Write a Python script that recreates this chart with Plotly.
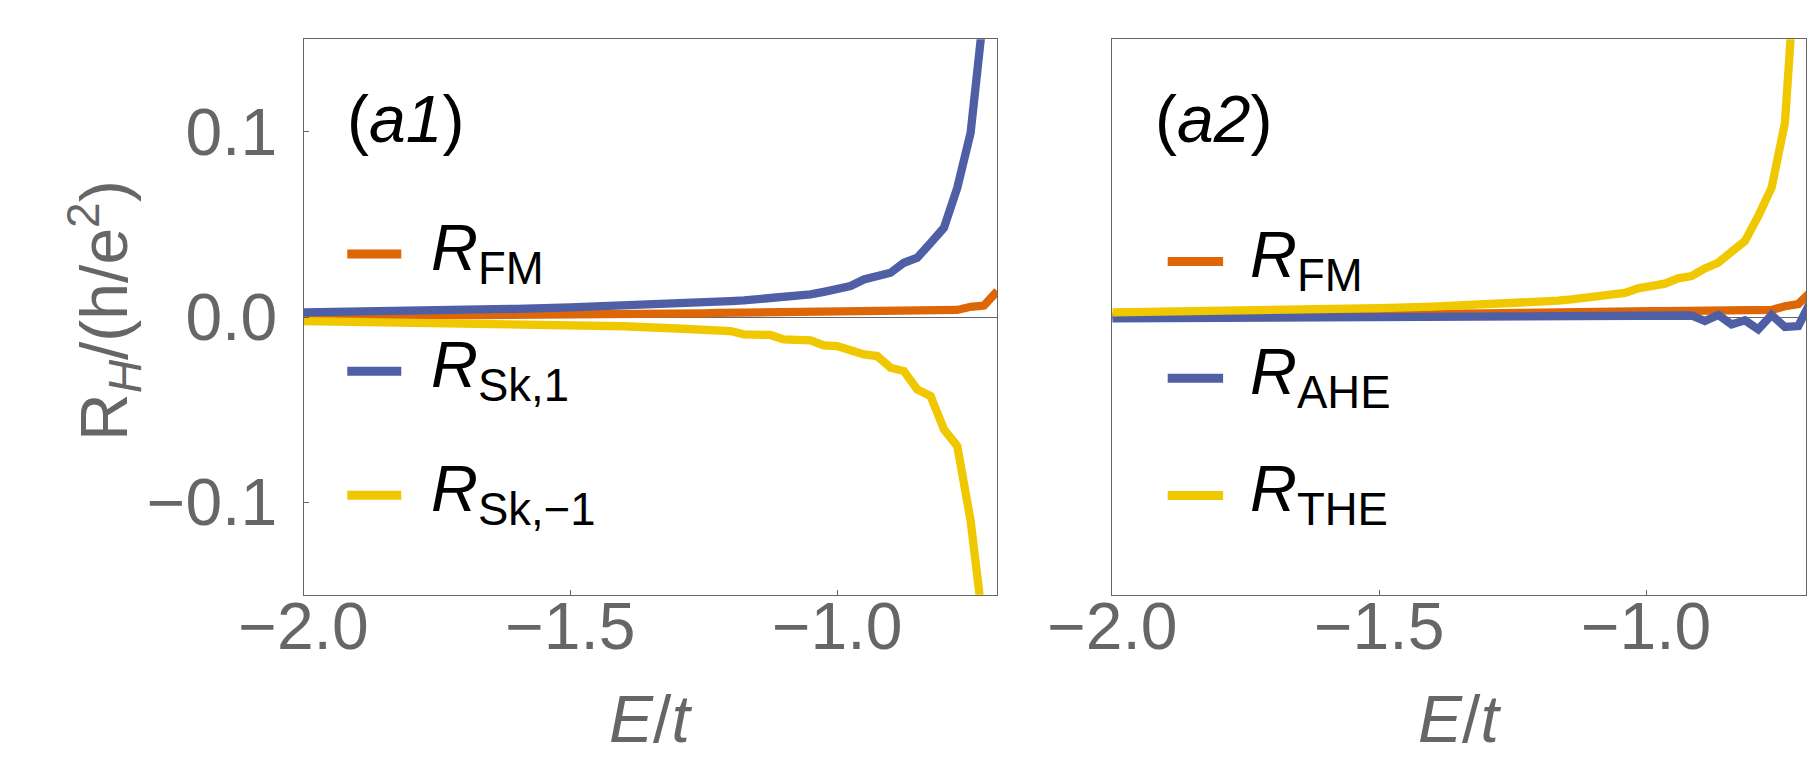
import plotly.graph_objects as go

# ---------------- data ----------------
# panel (a1)
E1 = [-2.0, -1.9, -1.8, -1.7, -1.6, -1.5, -1.4, -1.3, -1.25, -1.225, -1.2, -1.175,
      -1.15, -1.125, -1.1, -1.075, -1.05, -1.025, -1.0, -0.975, -0.95, -0.925, -0.9,
      -0.875, -0.85, -0.825, -0.8, -0.775, -0.75, -0.725, -0.7]
R_FM_1 = [0.0003, 0.0004, 0.0005, 0.0007, 0.0009, 0.0011, 0.0014, 0.0017, 0.0020, 0.0022,
          0.0023, 0.0023, 0.0025, 0.0025, 0.0026, 0.0026, 0.0027, 0.0029, 0.0030, 0.0030,
          0.0031, 0.0032, 0.0032, 0.0040, 0.0041, 0.0043, 0.0038, 0.0038, 0.0055, 0.0062,
          0.0140]
R_Sk_p1 = [0.0025, 0.0028, 0.0032, 0.0037, 0.0044, 0.0052, 0.0060, 0.0070, 0.0076, 0.0080,
           0.0086, 0.0090, 0.0095, 0.0100, 0.0110, 0.0116, 0.0122, 0.0136, 0.0146, 0.0167,
           0.0203, 0.0220, 0.0239, 0.0293, 0.0320, 0.0400, 0.0482, 0.0698, 0.0995, 0.166,
           0.30]
R_Sk_m1 = [-0.0022, -0.0025, -0.0028, -0.0032, -0.0036, -0.0041, -0.0050, -0.0062, -0.0070,
           -0.0076, -0.0076, -0.0094, -0.0095, -0.0097, -0.0121, -0.0123, -0.0126, -0.0153,
           -0.0157, -0.0180, -0.0202, -0.0211, -0.0274, -0.0292, -0.0391, -0.0427, -0.0607,
           -0.0697, -0.110, -0.170, -0.30]

# panel (a2)
E2 = [-2.0, -1.9, -1.8, -1.7, -1.6, -1.5, -1.4, -1.3, -1.24, -1.215, -1.19, -1.165,
      -1.14, -1.115, -1.09, -1.065, -1.04, -1.015, -0.99, -0.965, -0.94, -0.915, -0.89,
      -0.865, -0.84, -0.815, -0.79, -0.765, -0.74, -0.715, -0.69]
R_FM_2 = [0.0003, 0.0004, 0.0005, 0.0007, 0.0009, 0.0012, 0.0015, 0.0019, 0.0022, 0.0024,
          0.0025, 0.0026, 0.0027, 0.0027, 0.0028, 0.0029, 0.0029, 0.0030, 0.0031, 0.0032,
          0.0032, 0.0033, 0.0033, 0.0040, 0.0041, 0.0043, 0.0038, 0.0038, 0.0058, 0.0070,
          0.0140]
R_AHE = [-0.0007, -0.0006, -0.0005, -0.0004, -0.0003, -0.0002, 0.0000, 0.0002, 0.0004,
         0.0005, 0.0003, 0.0006, 0.0002, 0.0005, 0.0003, 0.0005, 0.0004, 0.0001, 0.0004,
         0.0000, 0.0003, 0.0008, -0.0022, 0.0011, -0.0040, -0.0018, -0.0067, 0.0011,
         -0.0054, -0.0049, 0.0093]
R_THE = [0.0025, 0.0028, 0.0032, 0.0036, 0.0042, 0.0048, 0.0056, 0.0066, 0.0072, 0.0077,
         0.0083, 0.0088, 0.0095, 0.0104, 0.0117, 0.0122, 0.0130, 0.0155, 0.0165, 0.0180,
         0.0209, 0.0221, 0.0262, 0.0293, 0.0352, 0.0410, 0.0545, 0.0698, 0.1049, 0.178,
         0.32]

x_tickvals = [-2.0, -1.5, -1.0]
x_ticktext = ["\u22122.0", "\u22121.5", "\u22121.0"]
y_tickvals = [-0.1, 0.0, 0.1]
y_ticktext = ["\u22120.1", "0.0", "0.1"]

labels1 = ["<i>R</i><sub>FM</sub>", "<i>R</i><sub>Sk,1</sub>", "<i>R</i><sub>Sk,\u22121</sub>"]
labels2 = ["<i>R</i><sub>FM</sub>", "<i>R</i><sub>AHE</sub>", "<i>R</i><sub>THE</sub>"]

# ---------------- style ----------------
ORANGE = "#DD6706"
BLUE = "#4F5FA6"
YELLOW = "#F0C800"
GRAY = "#666666"
FONT = "Liberation Sans"
W, H = 1815, 772
LW = 8.3


def px_x(p):
    return p / W


def px_y(p):
    return 1 - p / H


fig = go.Figure()

for x, y, c in [(E1, R_FM_1, ORANGE), (E1, R_Sk_p1, BLUE), (E1, R_Sk_m1, YELLOW)]:
    fig.add_trace(go.Scatter(x=x, y=y, mode="lines", line=dict(color=c, width=LW),
                             xaxis="x", yaxis="y", showlegend=False, hoverinfo="skip"))
for x, y, c in [(E2, R_FM_2, ORANGE), (E2, R_AHE, BLUE), (E2, R_THE, YELLOW)]:
    fig.add_trace(go.Scatter(x=x, y=y, mode="lines", line=dict(color=c, width=LW),
                             xaxis="x2", yaxis="y2", showlegend=False, hoverinfo="skip"))

axis_common = dict(range=[-2.0, -0.7], showgrid=False, zeroline=False, showline=True,
                   mirror=True, linecolor=GRAY, linewidth=1.3, ticks="inside", ticklen=5,
                   tickcolor=GRAY, tickwidth=1.2, automargin=False,
                   tickfont=dict(family=FONT, size=66, color=GRAY),
                   tickvals=x_tickvals, ticktext=x_ticktext)
yaxis_common = dict(range=[-0.15, 0.15], showgrid=False, zeroline=True, zerolinecolor=GRAY,
                    zerolinewidth=1.2, showline=True, mirror=True, linecolor=GRAY,
                    linewidth=1.3, automargin=False, domain=[px_y(586.7), px_y(31.3)])

fig.update_layout(
    template="none",
    width=W, height=H,
    margin=dict(l=0, r=0, t=0, b=0, autoexpand=False),
    paper_bgcolor="white", plot_bgcolor="white",
    xaxis=dict(axis_common, domain=[px_x(295.5), px_x(989.3)], anchor="y",
               ticklabelstandoff=-26),
    xaxis2=dict(axis_common, domain=[px_x(1104.3), px_x(1798.3)], anchor="y2",
                ticklabelstandoff=-26),
    yaxis=dict(yaxis_common, anchor="x", ticks="inside", ticklen=5, tickcolor=GRAY,
               tickwidth=1.2, tickvals=y_tickvals, ticktext=y_ticktext,
               tickfont=dict(family=FONT, size=66, color=GRAY), ticklabelstandoff=12),
    yaxis2=dict(yaxis_common, anchor="x2", showticklabels=False, ticks=""),
)

annotations = []
shapes = []
# panel labels
for text, xl in [("(<i>a1</i>)", 337), ("(<i>a2</i>)", 1145)]:
    annotations.append(dict(text=text, x=px_x(xl), y=px_y(111), xref="paper", yref="paper",
                            xanchor="left", yanchor="middle", showarrow=False,
                            font=dict(family=FONT, size=66, color="black")))

# legends
leg1_y = [246, 363.3, 487.3]
leg2_y = [253.6, 370.3, 487.5]
colors = [ORANGE, BLUE, YELLOW]
for labels, ys, x0, x1, xt in [(labels1, leg1_y, 339.3, 393.3, 421),
                               (labels2, leg2_y, 1159.7, 1215.1, 1240)]:
    for lab, yy, col in zip(labels, ys, colors):
        shapes.append(dict(type="line", xref="paper", yref="paper", x0=px_x(x0),
                           x1=px_x(x1), y0=px_y(yy), y1=px_y(yy),
                           line=dict(color=col, width=9)))
        annotations.append(dict(text=lab, x=px_x(xt), y=px_y(yy - 2), xref="paper",
                                yref="paper", xanchor="left", yanchor="middle",
                                showarrow=False,
                                font=dict(family=FONT, size=65, color="black")))

# axis titles
annotations.append(dict(text="R<sub><i>H</i></sub>/(h/e<sup>2</sup>)", x=px_x(96),
                        y=px_y(303), xref="paper", yref="paper", textangle=-90,
                        xanchor="center", yanchor="middle", showarrow=False,
                        font=dict(family=FONT, size=66, color=GRAY)))
for xc in [642.4, 1451.3]:
    annotations.append(dict(text="<i>E</i>/<i>t</i>", x=px_x(xc), y=px_y(711),
                            xref="paper", yref="paper", xanchor="center",
                            yanchor="middle", showarrow=False,
                            font=dict(family=FONT, size=66, color=GRAY)))

fig.update_layout(annotations=annotations, shapes=shapes)
fig.write_html("out.html")
